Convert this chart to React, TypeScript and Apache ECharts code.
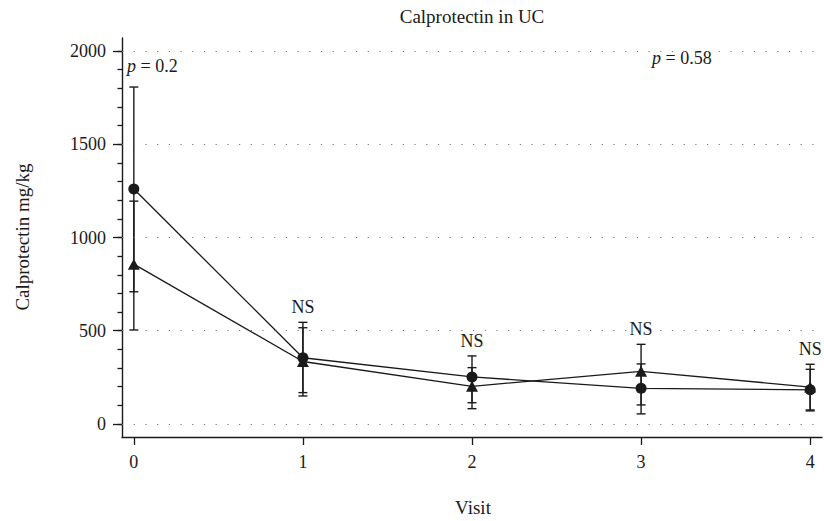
import React, { useEffect, useRef } from "react";
import * as echarts from "echarts";

// Visits on the x axis
const visits = [0, 1, 2, 3, 4];

// Group drawn with filled circles: mean and error bar ends (mg/kg)
const circleMean = [1260, 355, 252, 191, 183];
const circleLow = [709, 168, 114, 54, 70];
const circleHigh = [1807, 545, 365, 322, 293];

// Group drawn with filled triangles: mean and error bar ends (mg/kg)
const triangleMean = [857, 335, 202, 282, 198];
const triangleLow = [504, 150, 82, 102, 75];
const triangleHigh = [1195, 516, 302, 427, 320];

// Visits marked as not significant
const nsVisits = [1, 2, 3, 4];

// Axis ticks
const xTicks = [0, 1, 2, 3, 4];
const yMajorTicks = [0, 500, 1000, 1500, 2000];
const yMinorTicks = [
  0, 100, 200, 300, 400, 500, 600, 700, 800, 900, 1000, 1100, 1200, 1300, 1400,
  1500, 1600, 1700, 1800, 1900, 2000,
];

const FONT = "Liberation Serif";
const INK = "#1a1a1a";
const LABEL_SIZE = 18;
const TITLE_SIZE = 19;

export default function App() {
  const ref = useRef<HTMLDivElement>(null);

  useEffect(() => {
    if (!ref.current) return;
    const chart = echarts.init(ref.current, undefined, { renderer: "svg" });

    const errData = (lo: number[], hi: number[]) =>
      visits.map((v, i) => [v, lo[i], hi[i]]);

    const errorBarItem = (params: any, api: any) => {
      const x = api.value(0);
      const lo = api.coord([x, api.value(1)]);
      const hi = api.coord([x, api.value(2)]);
      const w = 4.5;
      const style = { stroke: INK, lineWidth: 1.4 };
      return {
        type: "group",
        children: [
          { type: "line", shape: { x1: lo[0], y1: lo[1], x2: hi[0], y2: hi[1] }, style },
          { type: "line", shape: { x1: lo[0] - w, y1: lo[1], x2: lo[0] + w, y2: lo[1] }, style },
          { type: "line", shape: { x1: hi[0] - w, y1: hi[1], x2: hi[0] + w, y2: hi[1] }, style },
        ],
      };
    };

    const nsData = nsVisits.map((v) => {
      const i = visits.indexOf(v);
      return [v, Math.max(circleHigh[i], triangleHigh[i])];
    });

    const textStyle = (text: string, align: string, size: number, extra: any = {}) => ({
      text,
      fill: INK,
      fontFamily: FONT,
      fontSize: size,
      align,
      verticalAlign: "middle",
      ...extra,
    });

    const nsItem = (params: any, api: any) => {
      const p = api.coord([api.value(0), api.value(1)]);
      return {
        type: "text",
        x: p[0],
        y: p[1] - 15,
        style: textStyle("NS", "center", LABEL_SIZE),
      };
    };

    const yBase = {
      type: "value",
      min: -70,
      max: 2070,
      position: "left",
      splitLine: { show: false },
    };

    const italicP = {
      rich: {
        i: { fontStyle: "italic", fontFamily: FONT, fontSize: LABEL_SIZE, fill: INK },
      },
    };

    chart.setOption({
      animation: false,
      backgroundColor: "#ffffff",
      grid: { left: 122, right: 2, top: 38, bottom: 84, containLabel: false },
      xAxis: {
        type: "value",
        min: -0.07,
        max: 4.07,
        axisLine: { show: true, onZero: false, lineStyle: { color: INK, width: 1.4 } },
        axisTick: {
          show: true,
          length: 8,
          customValues: xTicks,
          lineStyle: { color: INK, width: 1.3 },
        },
        axisLabel: {
          customValues: xTicks,
          margin: 16,
          color: INK,
          fontFamily: FONT,
          fontSize: LABEL_SIZE,
          formatter: (v: number) => String(Math.round(v)),
        },
        splitLine: { show: false },
      },
      yAxis: [
        {
          ...yBase,
          axisLine: { show: true, onZero: false, lineStyle: { color: INK, width: 1.4 } },
          axisTick: {
            show: true,
            length: 4.5,
            customValues: yMinorTicks,
            lineStyle: { color: INK, width: 1.3 },
          },
          axisLabel: { show: false },
        },
        {
          ...yBase,
          axisLine: { show: false, onZero: false },
          axisTick: {
            show: true,
            length: 9,
            customValues: yMajorTicks,
            lineStyle: { color: INK, width: 1.3 },
          },
          axisLabel: {
            customValues: yMajorTicks,
            margin: 16,
            color: INK,
            fontFamily: FONT,
            fontSize: LABEL_SIZE,
            formatter: (v: number) => String(Math.round(v)),
          },
        },
      ],
      series: [
        {
          name: "gridlines",
          type: "line",
          data: [],
          silent: true,
          markLine: {
            silent: true,
            symbol: ["none", "none"],
            label: { show: false },
            lineStyle: { color: "#777", width: 1.2, type: [1.2, 10.5] },
            data: yMajorTicks.map((v) => ({ yAxis: v })),
          },
        },
        {
          name: "circle-err",
          type: "custom",
          renderItem: errorBarItem,
          data: errData(circleLow, circleHigh),
          encode: { x: 0, y: [1, 2] },
          z: 2,
        },
        {
          name: "triangle-err",
          type: "custom",
          renderItem: errorBarItem,
          data: errData(triangleLow, triangleHigh),
          encode: { x: 0, y: [1, 2] },
          z: 2,
        },
        {
          name: "Circle group",
          type: "line",
          data: visits.map((v, i) => [v, circleMean[i]]),
          symbol: "circle",
          symbolSize: 11,
          lineStyle: { color: INK, width: 1.3 },
          itemStyle: { color: INK },
          z: 3,
        },
        {
          name: "Triangle group",
          type: "line",
          data: visits.map((v, i) => [v, triangleMean[i]]),
          symbol: "triangle",
          symbolSize: [12, 11],
          lineStyle: { color: INK, width: 1.3 },
          itemStyle: { color: INK },
          z: 3,
        },
        {
          name: "NS",
          type: "custom",
          renderItem: nsItem,
          data: nsData,
          encode: { x: 0, y: 1 },
          z: 4,
        },
      ],
      graphic: [
        {
          type: "text",
          x: 472,
          y: 16,
          style: textStyle("Calprotectin in UC", "center", TITLE_SIZE),
        },
        {
          type: "text",
          x: 22,
          y: 237,
          rotation: Math.PI / 2,
          style: textStyle("Calprotectin mg/kg", "center", TITLE_SIZE),
        },
        {
          type: "text",
          x: 473,
          y: 507,
          style: textStyle("Visit", "center", TITLE_SIZE),
        },
        {
          type: "text",
          x: 127,
          y: 66,
          style: textStyle("{i|p} = 0.2", "left", LABEL_SIZE, italicP),
        },
        {
          type: "text",
          x: 652,
          y: 58,
          style: textStyle("{i|p} = 0.58", "left", LABEL_SIZE, italicP),
        },
      ],
    });

    return () => chart.dispose();
  }, []);

  return (
    <div
      ref={ref}
      style={{ position: "fixed", left: 0, top: 0, width: 824, height: 521, background: "#fff" }}
    />
  );
}
